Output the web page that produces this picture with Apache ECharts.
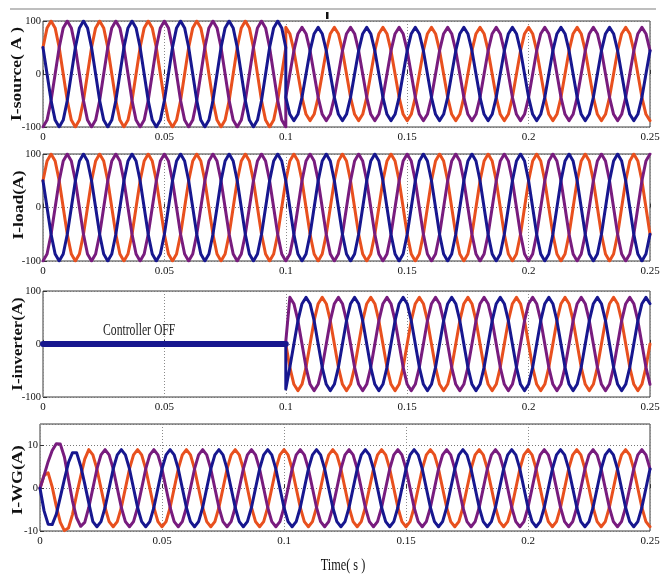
<!DOCTYPE html>
<html>
<head>
<meta charset="utf-8">
<script src="https://cdn.jsdelivr.net/npm/echarts@6.0.0/dist/echarts.min.js"></script>
<style>html,body{margin:0;padding:0;background:#fff}#c{width:665px;height:578px}</style>
</head>
<body>
<div id="c"></div>
<script>
// ---- time samples (s) ----
const T = [
0,0.00167,0.00333,0.005,0.00667,0.00833,0.01,0.01167,0.01333,0.015,0.01667,0.01833,
0.02,0.02167,0.02333,0.025,0.02667,0.02833,0.03,0.03167,0.03333,0.035,0.03667,0.03833,
0.04,0.04167,0.04333,0.045,0.04667,0.04833,0.05,0.05167,0.05333,0.055,0.05667,0.05833,
0.06,0.06167,0.06333,0.065,0.06667,0.06833,0.07,0.07167,0.07333,0.075,0.07667,0.07833,
0.08,0.08167,0.08333,0.085,0.08667,0.08833,0.09,0.09167,0.09333,0.095,0.09667,0.09833,
0.1,0.10167,0.10333,0.105,0.10667,0.10833,0.11,0.11167,0.11333,0.115,0.11667,0.11833,
0.12,0.12167,0.12333,0.125,0.12667,0.12833,0.13,0.13167,0.13333,0.135,0.13667,0.13833,
0.14,0.14167,0.14333,0.145,0.14667,0.14833,0.15,0.15167,0.15333,0.155,0.15667,0.15833,
0.16,0.16167,0.16333,0.165,0.16667,0.16833,0.17,0.17167,0.17333,0.175,0.17667,0.17833,
0.18,0.18167,0.18333,0.185,0.18667,0.18833,0.19,0.19167,0.19333,0.195,0.19667,0.19833,
0.2,0.20167,0.20333,0.205,0.20667,0.20833,0.21,0.21167,0.21333,0.215,0.21667,0.21833,
0.22,0.22167,0.22333,0.225,0.22667,0.22833,0.23,0.23167,0.23333,0.235,0.23667,0.23833,
0.24,0.24167,0.24333,0.245,0.24667,0.24833,0.25];

// ---- I-load (A), 0 .. 0.25 s ----
const loadOrange = [
50,87,100,87,50,0,-50,-87,-100,-87,-50,0,
50,87,100,87,50,0,-50,-87,-100,-87,-50,0,
50,87,100,87,50,0,-50,-87,-100,-87,-50,0,
50,87,100,87,50,0,-50,-87,-100,-87,-50,0,
50,87,100,87,50,0,-50,-87,-100,-87,-50,0,
50,87,100,87,50,0,-50,-87,-100,-87,-50,0,
50,87,100,87,50,0,-50,-87,-100,-87,-50,0,
50,87,100,87,50,0,-50,-87,-100,-87,-50,0,
50,87,100,87,50,0,-50,-87,-100,-87,-50,0,
50,87,100,87,50,0,-50,-87,-100,-87,-50,0,
50,87,100,87,50,0,-50,-87,-100,-87,-50,0,
50,87,100,87,50,0,-50,-87,-100,-87,-50,0,
50,87,100,87,50,0,-50];
const loadPurple = [
-100,-87,-50,0,50,87,100,87,50,0,-50,-87,
-100,-87,-50,0,50,87,100,87,50,0,-50,-87,
-100,-87,-50,0,50,87,100,87,50,0,-50,-87,
-100,-87,-50,0,50,87,100,87,50,0,-50,-87,
-100,-87,-50,0,50,87,100,87,50,0,-50,-87,
-100,-87,-50,0,50,87,100,87,50,0,-50,-87,
-100,-87,-50,0,50,87,100,87,50,0,-50,-87,
-100,-87,-50,0,50,87,100,87,50,0,-50,-87,
-100,-87,-50,0,50,87,100,87,50,0,-50,-87,
-100,-87,-50,0,50,87,100,87,50,0,-50,-87,
-100,-87,-50,0,50,87,100,87,50,0,-50,-87,
-100,-87,-50,0,50,87,100,87,50,0,-50,-87,
-100,-87,-50,0,50,87,100];
const loadBlue = [
50,0,-50,-87,-100,-87,-50,0,50,87,100,87,
50,0,-50,-87,-100,-87,-50,0,50,87,100,87,
50,0,-50,-87,-100,-87,-50,0,50,87,100,87,
50,0,-50,-87,-100,-87,-50,0,50,87,100,87,
50,0,-50,-87,-100,-87,-50,0,50,87,100,87,
50,0,-50,-87,-100,-87,-50,0,50,87,100,87,
50,0,-50,-87,-100,-87,-50,0,50,87,100,87,
50,0,-50,-87,-100,-87,-50,0,50,87,100,87,
50,0,-50,-87,-100,-87,-50,0,50,87,100,87,
50,0,-50,-87,-100,-87,-50,0,50,87,100,87,
50,0,-50,-87,-100,-87,-50,0,50,87,100,87,
50,0,-50,-87,-100,-87,-50,0,50,87,100,87,
50,0,-50,-87,-100,-87,-50];

// ---- I-source (A): before 0.1 s it equals the load current; after 0.1 s ----
const srcOrangeBefore = loadOrange.slice(0, 61);
const srcPurpleBefore = loadPurple.slice(0, 61);
const srcBlueBefore = loadBlue.slice(0, 61);
const srcOrangeAfter = [
88,76,44,0,-44,-76,-88,-76,-44,0,44,76,
88,76,44,0,-44,-76,-88,-76,-44,0,44,76,
88,76,44,0,-44,-76,-88,-76,-44,0,44,76,
88,76,44,0,-44,-76,-88,-76,-44,0,44,76,
88,76,44,0,-44,-76,-88,-76,-44,0,44,76,
88,76,44,0,-44,-76,-88,-76,-44,0,44,76,
88,76,44,0,-44,-76,-88,-76,-44,0,44,76,
88,76,44,0,-44,-76,-88];
const srcPurpleAfter = [
-44,0,44,76,88,76,44,0,-44,-76,-88,-76,
-44,0,44,76,88,76,44,0,-44,-76,-88,-76,
-44,0,44,76,88,76,44,0,-44,-76,-88,-76,
-44,0,44,76,88,76,44,0,-44,-76,-88,-76,
-44,0,44,76,88,76,44,0,-44,-76,-88,-76,
-44,0,44,76,88,76,44,0,-44,-76,-88,-76,
-44,0,44,76,88,76,44,0,-44,-76,-88,-76,
-44,0,44,76,88,76,44];
const srcBlueAfter = [
-44,-76,-88,-76,-44,0,44,76,88,76,44,0,
-44,-76,-88,-76,-44,0,44,76,88,76,44,0,
-44,-76,-88,-76,-44,0,44,76,88,76,44,0,
-44,-76,-88,-76,-44,0,44,76,88,76,44,0,
-44,-76,-88,-76,-44,0,44,76,88,76,44,0,
-44,-76,-88,-76,-44,0,44,76,88,76,44,0,
-44,-76,-88,-76,-44,0,44,76,88,76,44,0,
-44,-76,-88,-76,-44,0,44];

// ---- I-inverter (A): controller OFF until 0.1 s, then on ----
const invOffTime = [0, 0.1];
const invOff = [0, 0];
const invOrangeOn = [
0,-44,-76,-88,-76,-44,0,44,76,88,76,44,
0,-44,-76,-88,-76,-44,0,44,76,88,76,44,
0,-44,-76,-88,-76,-44,0,44,76,88,76,44,
0,-44,-76,-88,-76,-44,0,44,76,88,76,44,
0,-44,-76,-88,-76,-44,0,44,76,88,76,44,
0,-44,-76,-88,-76,-44,0,44,76,88,76,44,
0,-44,-76,-88,-76,-44,0,44,76,88,76,44,
0,-44,-76,-88,-76,-44,0];
const invPurpleOn = [
5,88,76,44,0,-44,-76,-88,-76,-44,0,44,
76,88,76,44,0,-44,-76,-88,-76,-44,0,44,
76,88,76,44,0,-44,-76,-88,-76,-44,0,44,
76,88,76,44,0,-44,-76,-88,-76,-44,0,44,
76,88,76,44,0,-44,-76,-88,-76,-44,0,44,
76,88,76,44,0,-44,-76,-88,-76,-44,0,44,
76,88,76,44,0,-44,-76,-88,-76,-44,0,44,
76,88,76,44,0,-44,-76];
const invBlueOn = [
-85,-44,0,44,76,88,76,44,0,-44,-76,-88,
-76,-44,0,44,76,88,76,44,0,-44,-76,-88,
-76,-44,0,44,76,88,76,44,0,-44,-76,-88,
-76,-44,0,44,76,88,76,44,0,-44,-76,-88,
-76,-44,0,44,76,88,76,44,0,-44,-76,-88,
-76,-44,0,44,76,88,76,44,0,-44,-76,-88,
-76,-44,0,44,76,88,76,44,0,-44,-76,-88,
-76,-44,0,44,76,88,76];

// ---- I-WG (A) ----
const wgOrange = [
0,3,3.6,0.3,-4.2,-8,-9.9,-9.3,-6.1,-1.5,2.8,6.8,
9,7.8,4.5,0,-4.5,-7.8,-9,-7.8,-4.5,0,4.5,7.8,
9,7.8,4.5,0,-4.5,-7.8,-9,-7.8,-4.5,0,4.5,7.8,
9,7.8,4.5,0,-4.5,-7.8,-9,-7.8,-4.5,0,4.5,7.8,
9,7.8,4.5,0,-4.5,-7.8,-9,-7.8,-4.5,0,4.5,7.8,
9,7.8,4.5,0,-4.5,-7.8,-9,-7.8,-4.5,0,4.5,7.8,
9,7.8,4.5,0,-4.5,-7.8,-9,-7.8,-4.5,0,4.5,7.8,
9,7.8,4.5,0,-4.5,-7.8,-9,-7.8,-4.5,0,4.5,7.8,
9,7.8,4.5,0,-4.5,-7.8,-9,-7.8,-4.5,0,4.5,7.8,
9,7.8,4.5,0,-4.5,-7.8,-9,-7.8,-4.5,0,4.5,7.8,
9,7.8,4.5,0,-4.5,-7.8,-9,-7.8,-4.5,0,4.5,7.8,
9,7.8,4.5,0,-4.5,-7.8,-9,-7.8,-4.5,0,4.5,7.8,
9,7.8,4.5,0,-4.5,-7.8,-9];
const wgPurple = [
0,3,6.2,8.8,10.4,10.3,7.3,2.1,-3,-6.9,-8.9,-8,
-4.5,0,4.5,7.8,9,7.8,4.5,0,-4.5,-7.8,-9,-7.8,
-4.5,0,4.5,7.8,9,7.8,4.5,0,-4.5,-7.8,-9,-7.8,
-4.5,0,4.5,7.8,9,7.8,4.5,0,-4.5,-7.8,-9,-7.8,
-4.5,0,4.5,7.8,9,7.8,4.5,0,-4.5,-7.8,-9,-7.8,
-4.5,0,4.5,7.8,9,7.8,4.5,0,-4.5,-7.8,-9,-7.8,
-4.5,0,4.5,7.8,9,7.8,4.5,0,-4.5,-7.8,-9,-7.8,
-4.5,0,4.5,7.8,9,7.8,4.5,0,-4.5,-7.8,-9,-7.8,
-4.5,0,4.5,7.8,9,7.8,4.5,0,-4.5,-7.8,-9,-7.8,
-4.5,0,4.5,7.8,9,7.8,4.5,0,-4.5,-7.8,-9,-7.8,
-4.5,0,4.5,7.8,9,7.8,4.5,0,-4.5,-7.8,-9,-7.8,
-4.5,0,4.5,7.8,9,7.8,4.5,0,-4.5,-7.8,-9,-7.8,
-4.5,0,4.5,7.8,9,7.8,4.5];
const wgBlue = [
0,-5.3,-8.4,-8.5,-6.1,-2.1,2.1,6,8.3,8.3,5.2,1,
-3.5,-7.8,-9,-7.8,-4.5,0,4.5,7.8,9,7.8,4.5,0,
-4.5,-7.8,-9,-7.8,-4.5,0,4.5,7.8,9,7.8,4.5,0,
-4.5,-7.8,-9,-7.8,-4.5,0,4.5,7.8,9,7.8,4.5,0,
-4.5,-7.8,-9,-7.8,-4.5,0,4.5,7.8,9,7.8,4.5,0,
-4.5,-7.8,-9,-7.8,-4.5,0,4.5,7.8,9,7.8,4.5,0,
-4.5,-7.8,-9,-7.8,-4.5,0,4.5,7.8,9,7.8,4.5,0,
-4.5,-7.8,-9,-7.8,-4.5,0,4.5,7.8,9,7.8,4.5,0,
-4.5,-7.8,-9,-7.8,-4.5,0,4.5,7.8,9,7.8,4.5,0,
-4.5,-7.8,-9,-7.8,-4.5,0,4.5,7.8,9,7.8,4.5,0,
-4.5,-7.8,-9,-7.8,-4.5,0,4.5,7.8,9,7.8,4.5,0,
-4.5,-7.8,-9,-7.8,-4.5,0,4.5,7.8,9,7.8,4.5,0,
-4.5,-7.8,-9,-7.8,-4.5,0,4.5];

// ---- labels ----
const yTitles = ['I-source( A )', 'I-load(A)', 'I-inverter(A)', 'I-WG(A)'];
const xTitle = 'Time( s )';
const note = 'Controller OFF';

// ---- build ----
const COL = { orange: '#E8501E', purple: '#781C7E', blue: '#17178F' };
const FONT = "'Liberation Serif','Times New Roman',serif";
const zip = (ts, vs) => vs.map((v, i) => [ts[i], v]);
const T0 = T.slice(0, 61), T1 = T.slice(60);

const panels = [
  { left: 43, top: 21, width: 607, height: 106, min: -100, max: 100, interval: 100 },
  { left: 43, top: 154, width: 607, height: 107, min: -100, max: 100, interval: 100 },
  { left: 43, top: 291, width: 607, height: 106, min: -100, max: 100, interval: 100 },
  { left: 40, top: 424, width: 610, height: 107, min: -10, max: 15, interval: 10 }
];

const grid = panels.map(p => ({
  left: p.left, top: p.top, width: p.width, height: p.height,
  show: true, borderColor: '#3a3a3a', borderWidth: 1, backgroundColor: 'rgba(0,0,0,0)',
  containLabel: false, outerBoundsMode: 'none'
}));
const xAxis = panels.map((p, i) => ({
  type: 'value', gridIndex: i, min: 0, max: 0.25, interval: 0.05,
  axisLine: { show: false },
  axisTick: { show: true, inside: true, length: 4, lineStyle: { color: '#333' } },
  splitLine: { show: true, lineStyle: { type: [1, 2], color: '#8a8a8a', width: 1 } },
  axisLabel: { fontFamily: FONT, fontSize: 11, color: '#111', margin: 5, showMinLabel: true, showMaxLabel: true, hideOverlap: false }
}));
const yAxis = panels.map((p, i) => ({
  type: 'value', gridIndex: i, min: p.min, max: p.max, interval: p.interval,
  axisLine: { show: false },
  axisTick: { show: true, inside: true, length: 4, lineStyle: { color: '#333' } },
  splitLine: { show: true, lineStyle: { type: [1, 2], color: '#777', width: 1 } },
  axisLabel: { fontFamily: FONT, fontSize: 10.5, color: '#111', margin: 2, showMaxLabel: i !== 3, hideOverlap: false }
}));

function line(gi, data, color, w) {
  return {
    type: 'line', xAxisIndex: gi, yAxisIndex: gi, data: data,
    showSymbol: false, symbol: 'none', smooth: false, silent: true, animation: false,
    lineStyle: { color: color, width: w || 3, join: 'round', cap: 'round' },
    itemStyle: { color: color }
  };
}

const series = [
  line(0, zip(T0, srcOrangeBefore).concat(zip(T1, srcOrangeAfter)), COL.orange),
  line(0, zip(T0, srcPurpleBefore).concat(zip(T1, srcPurpleAfter)), COL.purple),
  line(0, zip(T0, srcBlueBefore).concat(zip(T1, srcBlueAfter)), COL.blue),
  line(1, zip(T, loadOrange), COL.orange),
  line(1, zip(T, loadPurple), COL.purple),
  line(1, zip(T, loadBlue), COL.blue),
  line(2, zip(invOffTime, invOff).concat(zip(T1, invOrangeOn)), COL.orange),
  line(2, zip(invOffTime, invOff).concat(zip(T1, invPurpleOn)), COL.purple),
  line(2, zip(invOffTime, invOff).concat(zip(T1, invBlueOn)), COL.blue),
  line(2, zip(invOffTime, invOff), COL.blue, 6),
  line(3, zip(T, wgOrange), COL.orange),
  line(3, zip(T, wgPurple), COL.purple),
  line(3, zip(T, wgBlue), COL.blue)
];

const titlePos = [[17, 74, 1.25], [19, 205, 1.25], [18, 344, 1.2], [18, 480, 1.28]];
const graphic = [
  { type: 'line', shape: { x1: 10, y1: 9, x2: 656, y2: 9 }, style: { stroke: '#a8a8a8', lineWidth: 1.5 }, silent: true },
  { type: 'rect', shape: { x: 326, y: 12, width: 2.5, height: 7 }, style: { fill: '#111' }, silent: true },
  { type: 'text', x: 103, y: 331, scaleX: 0.73, style: { text: note, font: '16px ' + FONT, fill: '#222', align: 'left', verticalAlign: 'middle' }, silent: true, z: 10 },
  { type: 'text', x: 343, y: 566, scaleX: 0.72, style: { text: xTitle, font: '17px ' + FONT, fill: '#111', align: 'center', verticalAlign: 'middle' }, silent: true }
].concat(yTitles.map((t, i) => ({
  type: 'text', x: titlePos[i][0], y: titlePos[i][1], rotation: Math.PI / 2, scaleX: titlePos[i][2],
  style: { text: t, font: 'bold 14px ' + FONT, fill: '#111', align: 'center', verticalAlign: 'middle' }, silent: true
})));

const chart = echarts.init(document.getElementById('c'), null, { renderer: 'canvas' });
chart.setOption({
  backgroundColor: '#fff',
  animation: false,
  grid: grid, xAxis: xAxis, yAxis: yAxis, series: series, graphic: graphic
});
</script>
</body>
</html>
